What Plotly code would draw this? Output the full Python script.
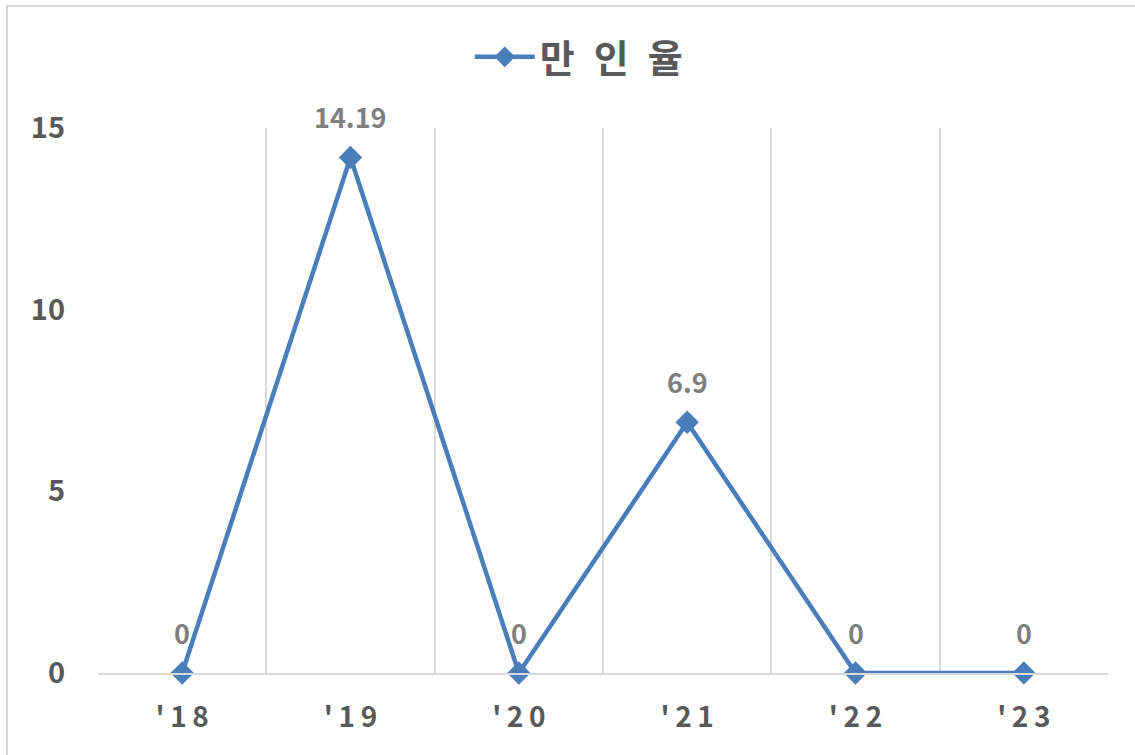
import plotly.graph_objects as go

# 연도별 만인율
years = ["'18", "'19", "'20", "'21", "'22", "'23"]
rates = [0, 14.19, 0, 6.9, 0, 0]
rate_labels = ["0", "14.19", "0", "6.9", "0", "0"]
y_ticks = [0, 5, 10, 15]
series_name = "만 인 율"

FONT = "Noto Sans CJK KR, sans-serif"
LINE_BLUE = "#4a7ebb"
AXIS_GRAY = "#595959"
LABEL_GRAY = "#7f7f7f"
GRID_GRAY = "#d9d9d9"

x_pos = list(range(len(years)))


def spaced(s):
    # 글자 사이를 살짝 띄움
    return "\u2009".join(s)


fig = go.Figure()
fig.add_trace(go.Scatter(
    x=x_pos,
    y=rates,
    mode="lines+markers",
    name="<b>" + series_name.replace(" ", "\u2002") + "</b>",
    line=dict(color=LINE_BLUE, width=4.5),
    marker=dict(symbol="diamond", size=18, color=LINE_BLUE),
    cliponaxis=False,
))

# 값 라벨
for xp, val, lab in zip(x_pos, rates, rate_labels):
    fig.add_annotation(
        x=xp, y=val, text=f"<b>{lab}</b>", showarrow=False,
        yshift=41, font=dict(family=FONT, size=27, color=LABEL_GRAY),
    )

# 차트 외곽선
fig.add_shape(
    type="rect", xref="paper", yref="paper",
    x0=-0.0901, x1=1.04, y0=-0.17, y1=1.2239,
    line=dict(color=GRID_GRAY, width=2), layer="below",
)

fig.update_layout(
    width=1135, height=755,
    margin=dict(l=98, r=27, t=128, b=82, autoexpand=False),
    paper_bgcolor="white", plot_bgcolor="white",
    font=dict(family=FONT, color=AXIS_GRAY),
    showlegend=True,
    legend=dict(
        orientation="h", x=0.476, xanchor="center", y=1.13, yanchor="middle",
        font=dict(family=FONT, size=38, color=AXIS_GRAY),
        bgcolor="rgba(0,0,0,0)",
        itemwidth=60,
    ),
    xaxis=dict(
        range=[-0.5, len(years) - 0.5],
        tickvals=x_pos,
        ticktext=[f"<b>{spaced(y)}</b>" for y in years],
        tickfont=dict(family=FONT, size=28, color=AXIS_GRAY),
        showgrid=False, zeroline=False,
        showline=True, linecolor=GRID_GRAY, linewidth=2,
        ticks="", ticklabelstandoff=18,
        minor=dict(
            tickvals=[i - 0.5 for i in range(len(years) + 1)],
            showgrid=True, gridcolor=GRID_GRAY, gridwidth=2, ticks="",
        ),
        fixedrange=True,
    ),
    yaxis=dict(
        range=[0, 15],
        tickvals=y_ticks,
        ticktext=[f"<b>{v}</b>" for v in y_ticks],
        tickfont=dict(family=FONT, size=29, color=AXIS_GRAY),
        showgrid=False, zeroline=False, showline=False,
        ticks="", ticklabelstandoff=32,
        fixedrange=True,
    ),
)

fig.write_html("out.html")
